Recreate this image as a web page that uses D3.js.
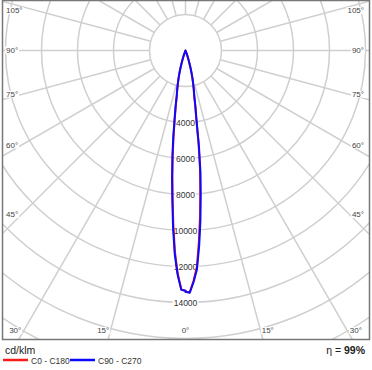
<!DOCTYPE html>
<html>
<head>
<meta charset="utf-8">
<script src="https://cdn.jsdelivr.net/npm/d3@7/dist/d3.min.js"></script>
<style>
  body { margin: 0; background: #fff; }
  text { font-family: "Liberation Sans", Arial, sans-serif; }
</style>
</head>
<body>
<div id="chart"></div>
<script>
// Settings
const SIZE = [372, 370]
const FRAME = {left: 2.5, top: 0.5, right: 369.5, bottom: 339.5}
const CENTER = [185.5, 50.5]
const GRID_COLOR = "#cfcfcf"

// Data: luminous intensity (cd/klm) against gamma angle (deg, 0 = straight down)
const gammas = [0, 1, 2, 3, 4, 5, 6, 7, 8, 9, 10, 11, 12, 13, 14, 15, 16, 17, 18, 19, 20, 21, 22, 23, 25, 45, 90, 135, 180]
const c0  = [13400, 13440, 12800, 12050, 10650, 9250, 7850, 6600, 5200, 3800, 3100, 2500, 2180, 1880, 1580, 1300, 1020, 740, 545, 375, 225, 118, 40, 0, 0, 0, 0, 0, 0]
const c180 = [13350, 13280, 12400, 11200, 9700, 8200, 6950, 5800, 4750, 3780, 3100, 2500, 2180, 1880, 1580, 1300, 1020, 740, 545, 375, 225, 118, 40, 0, 0, 0, 0, 0, 0]
const c90 = [13400, 13460, 12870, 12170, 10880, 9500, 8080, 6820, 5360, 3910, 3190, 2550, 2230, 1910, 1600, 1320, 1030, 745, 550, 380, 230, 120, 40, 0, 0, 0, 0, 0, 0]
const c270 = [13350, 13300, 12475, 11360, 9890, 8390, 7150, 5990, 4900, 3900, 3190, 2550, 2230, 1910, 1600, 1320, 1030, 745, 550, 380, 230, 120, 40, 0, 0, 0, 0, 0, 0]

const ringValues = [2000, 4000, 6000, 8000, 10000, 12000, 14000, 16000, 18000, 20000]
const ringLabels = [4000, 6000, 8000, 10000, 12000, 14000]
const spokeAngles = [15, 30, 45, 60, 75, 90, 105, 120, 135, 150, 165, 180, 195, 210, 225, 240, 255, 270, 285, 300, 315, 330, 345]
const sideLabels = [45, 60, 75, 90, 105]
const bottomLabels = [0, 15, 30]

const series = [
  {name: "C0 - C180", color: "#ff1a1a", right: c0, left: c180},
  {name: "C90 - C270", color: "#0a0aff", right: c90, left: c270}
]
const unit = "cd/klm"
const efficiency = "99%"

const r = d3.scaleLinear().domain([0, 1000]).range([0, 18])

// gamma (from straight down) -> x,y on screen; side = +1 right, -1 left
const toXY = (g, v, side) => {
  const a = g * Math.PI / 180
  return [CENTER[0] + side * r(v) * Math.sin(a), CENTER[1] + r(v) * Math.cos(a)]
}

const svg = d3.select("#chart").append("svg")
  .attr("width", SIZE[0])
  .attr("height", SIZE[1])

svg.append("clipPath").attr("id", "frameClip")
  .append("rect")
    .attr("x", FRAME.left).attr("y", FRAME.top)
    .attr("width", FRAME.right - FRAME.left).attr("height", FRAME.bottom - FRAME.top)

const grid = svg.append("g").attr("clip-path", "url(#frameClip)")

grid.selectAll("circle")
  .data(ringValues)
  .join("circle")
    .attr("cx", CENTER[0])
    .attr("cy", CENTER[1])
    .attr("r", d => r(d))
    .attr("fill", "none")
    .attr("stroke", GRID_COLOR)
    .attr("stroke-width", 1.5)

grid.selectAll("line")
  .data(spokeAngles)
  .join("line")
    .attr("x1", d => toXY(d, ringValues[0], 1)[0])
    .attr("y1", d => toXY(d, ringValues[0], 1)[1])
    .attr("x2", d => toXY(d, 30000, 1)[0])
    .attr("y2", d => toXY(d, 30000, 1)[1])
    .attr("stroke", GRID_COLOR)
    .attr("stroke-width", 1.5)

// label with white box behind it
function boxedText(g, x, y, txt, anchor, size, color) {
  const grp = g.append("g")
  const t = grp.append("text")
    .attr("x", x).attr("y", y)
    .attr("text-anchor", anchor)
    .attr("dominant-baseline", "middle")
    .attr("font-size", size)
    .attr("fill", color)
    .text(txt)
  const bb = t.node().getBBox()
  grp.insert("rect", "text")
    .attr("x", bb.x - 1).attr("y", bb.y + 1)
    .attr("width", bb.width + 2).attr("height", bb.height - 2)
    .attr("fill", "#fff")
}

const labels = svg.append("g")

// angle labels at the left and right edges, placed where the spoke crosses an inset line
const xInR = 350, xInL = 21
for (const a of sideLabels) {
  const rad = a * Math.PI / 180
  const yR = Math.max(11, CENTER[1] + (xInR - CENTER[0]) * Math.cos(rad) / Math.sin(rad))
  const yL = Math.max(11, CENTER[1] + (CENTER[0] - xInL) * Math.cos(rad) / Math.sin(rad))
  boxedText(labels, 364, yR, a + "°", "end", 8, "#444")
  boxedText(labels, 6, yL, a + "°", "start", 8, "#444")
}
// angle labels along the bottom
const yInB = 335, yText = 331
for (const a of bottomLabels) {
  const dx = (yInB - CENTER[1]) * Math.tan(a * Math.PI / 180)
  if (a === 0) {
    boxedText(labels, CENTER[0], yText, a + "°", "middle", 8, "#444")
  } else {
    boxedText(labels, CENTER[0] + dx, yText, a + "°", "start", 8, "#444")
    boxedText(labels, CENTER[0] - dx, yText, a + "°", "end", 8, "#444")
  }
}
// intensity labels down the 0° axis
for (const v of ringLabels) {
  boxedText(labels, CENTER[0], CENTER[1] + r(v) + 1.5, v, "middle", 8.5, "#333")
}

// curves
const line = d3.lineRadial()
  .angle(d => d[0])
  .radius(d => r(d[1]))

const curves = svg.append("g")
  .attr("transform", `translate(${CENTER[0]},${CENTER[1]})`)

curves.selectAll("path")
  .data(series)
  .join("path")
    .attr("d", s => {
      const right = gammas.map((g, i) => [Math.PI - g * Math.PI / 180, s.right[i]])
      const left = gammas.map((g, i) => [Math.PI + g * Math.PI / 180, s.left[i]]).reverse()
      return line(right.concat(left)) + "Z"
    })
    .attr("fill", "none")
    .attr("stroke", s => s.color)
    .attr("stroke-width", 2)
    .attr("stroke-linejoin", "round")

// frame
svg.append("rect")
  .attr("x", FRAME.left).attr("y", FRAME.top)
  .attr("width", FRAME.right - FRAME.left).attr("height", FRAME.bottom - FRAME.top)
  .attr("fill", "none")
  .attr("stroke", "#777")
  .attr("stroke-width", 1.5)

// footer
svg.append("text")
  .attr("x", 5).attr("y", 354)
  .attr("font-size", 10.5)
  .attr("fill", "#222")
  .text(unit)

const eta = svg.append("text")
  .attr("x", 365).attr("y", 354)
  .attr("text-anchor", "end")
  .attr("font-size", 10.5)
  .attr("fill", "#222")
eta.append("tspan").text("η = ")
eta.append("tspan").attr("font-weight", "bold").text(efficiency)

const legend = svg.append("g")
  .selectAll("g")
  .data(series)
  .join("g")
    .attr("transform", (d, i) => `translate(${3 + i * 67},360)`)
legend.append("line")
  .attr("x1", 0).attr("x2", 25)
  .attr("stroke", d => d.color)
  .attr("stroke-width", 2.5)
legend.append("text")
  .attr("x", 28).attr("y", 3.5)
  .attr("font-size", 8.5)
  .attr("fill", "#333")
  .text(d => d.name)
</script>
</body>
</html>
